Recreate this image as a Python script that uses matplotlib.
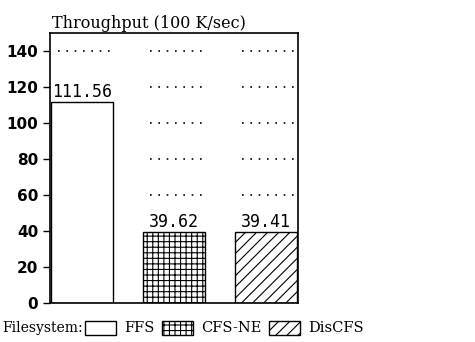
import numpy as np
import matplotlib
matplotlib.use("Agg")
import matplotlib.pyplot as plt
from matplotlib.patches import Patch

# data
systems = ["FFS", "CFS-NE", "DisCFS"]
throughput = [111.56, 39.62, 39.41]
hatches = ["", "+++", "///"]
yticks = [0, 20, 40, 60, 80, 100, 120, 140]

plt.rcParams['hatch.linewidth'] = 0.8

fig = plt.figure(figsize=(4.75, 3.42), dpi=100)
ax = fig.add_axes([50/475, 1 - 303/342, 248/475, 270/342])

x = np.arange(len(systems))
w = 0.68
bars = ax.bar(x, throughput, width=w, color="white", edgecolor="black",
              linewidth=1.0)
for b, h in zip(bars, hatches):
    b.set_hatch(h)

# dotted guide lines above each bar (kept clear of the value label)
for xi, v in zip(x, throughput):
    for yv in yticks[1:]:
        if yv > v + 12:
            ax.hlines(yv, xi - w/2 + 0.08, xi + w/2, colors="black",
                      linestyles=(0, (1, 4)), linewidth=1.2)
    ax.text(xi, v + 0.5, "%.2f" % v, ha="center", va="bottom",
            family="DejaVu Sans Mono", fontsize=12)

ax.set_xlim(-0.35, 2.35)
ax.set_ylim(0, 150)
ax.set_xticks([])
ax.set_yticks(yticks)
ax.tick_params(axis="y", direction="out", length=5, width=1,
               labelsize=11)
for lab in ax.get_yticklabels():
    lab.set_fontweight("semibold")
for s in ax.spines.values():
    s.set_linewidth(1.2)

fig.text(52/475, 1 - 28/342, "Throughput (100 K/sec)", family="DejaVu Serif",
         fontsize=11.5, ha="left", va="baseline")

fig.text(2/475, 1 - 328/342, "Filesystem:", family="DejaVu Serif",
         fontsize=10, ha="left", va="center")
handles = [Patch(facecolor="white", edgecolor="black", hatch=h, label=s)
           for s, h in zip(systems, hatches)]
fig.legend(handles=handles, loc="center left",
           bbox_to_anchor=(85/475, 1 - 328/342), ncol=3, frameon=False,
           prop={"family": "DejaVu Serif", "size": 10.5},
           handlelength=2.1, handleheight=1.1, handletextpad=0.6,
           columnspacing=0.5, borderaxespad=0, borderpad=0)

fig.savefig("out.png", dpi=100)
